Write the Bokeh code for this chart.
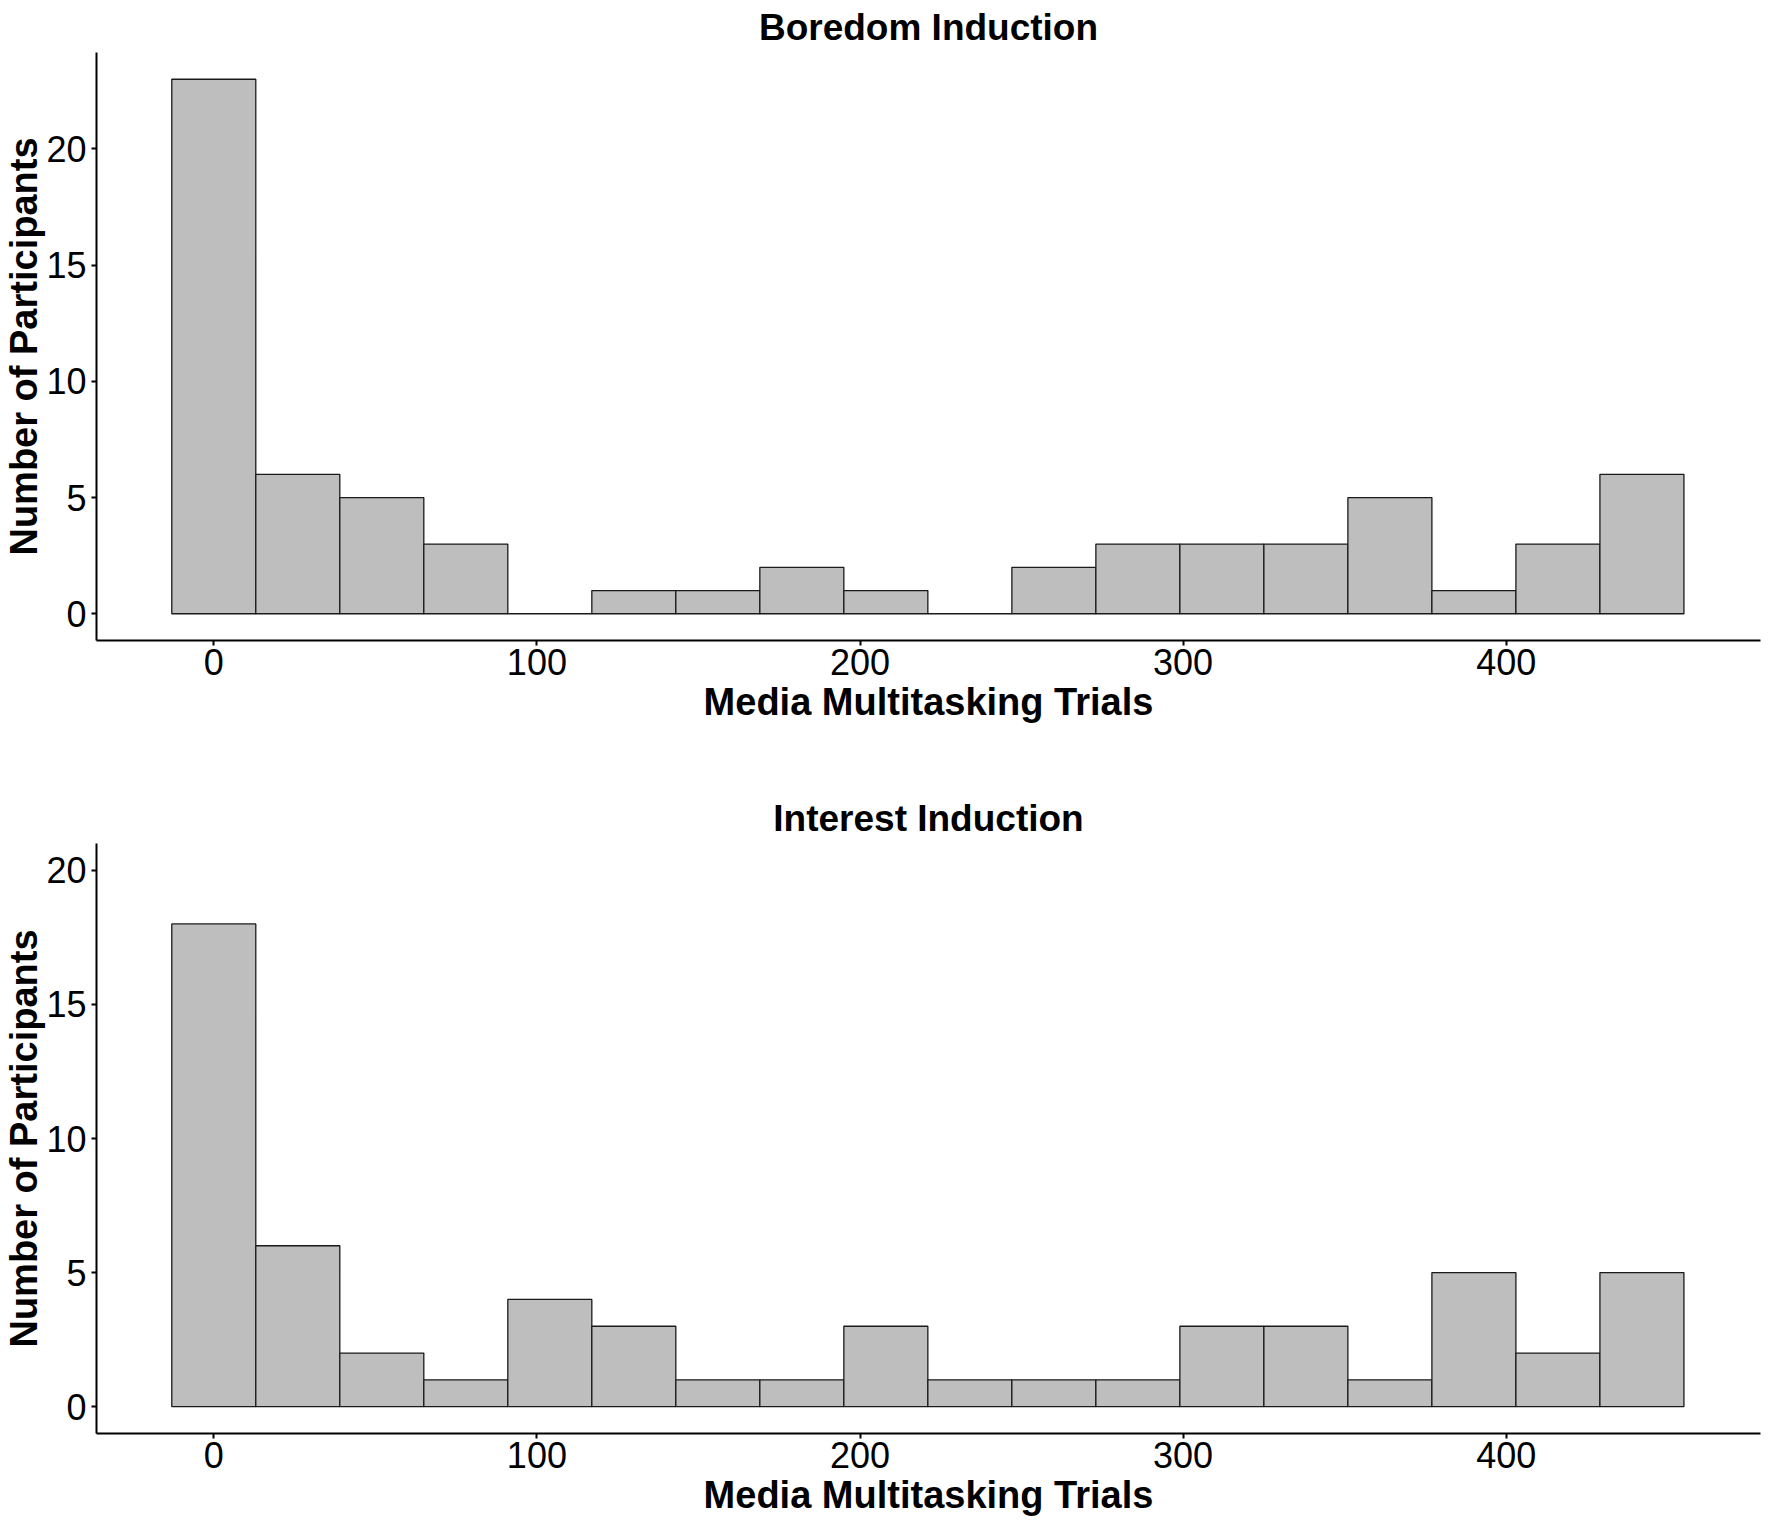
from bokeh.plotting import figure
from bokeh.models import Range1d, FixedTicker
from bokeh.layouts import column
from bokeh.embed import file_html
from bokeh.resources import INLINE

# ---- data ----
bin_centers = [0, 26, 52, 78, 104, 130, 156, 182, 208, 234, 260, 286, 312, 338, 364, 390, 416, 442]
bin_width = 26
boredom_counts = [23, 6, 5, 3, 0, 1, 1, 2, 1, 0, 2, 3, 3, 3, 5, 1, 3, 6]
interest_counts = [18, 6, 2, 1, 4, 3, 1, 1, 3, 1, 1, 1, 3, 3, 1, 5, 2, 5]
x_ticks = [0, 100, 200, 300, 400]
y_ticks = [0, 5, 10, 15, 20]
titles = ["Boredom Induction", "Interest Induction"]
x_label = "Media Multitasking Trials"
y_label = "Number of Participants"

FONT = "Liberation Sans"


def make_panel(title, counts, y_lo, y_hi, height, top_border, bottom_border):
    p = figure(width=1764, height=height,
               x_range=Range1d(-36.3, 478.7), y_range=Range1d(y_lo, y_hi),
               output_backend="svg", toolbar_location=None,
               min_border_left=89, min_border_right=4,
               min_border_top=top_border,
               min_border_bottom=bottom_border)
    p.title.text = title
    p.title.align = "center"
    p.title.text_font = FONT
    p.title.text_font_size = "37px"
    p.title.text_font_style = "bold"
    p.title.text_color = "black"
    p.title.standoff = 9

    p.vbar(x=bin_centers, width=bin_width, top=counts, bottom=0,
           fill_color="#BEBEBE", line_color="#1a1a1a", line_width=1.3)

    p.xgrid.visible = False
    p.ygrid.visible = False
    p.outline_line_color = None
    p.background_fill_color = "white"
    p.border_fill_color = "white"

    p.xaxis.ticker = FixedTicker(ticks=x_ticks)
    p.yaxis.ticker = FixedTicker(ticks=y_ticks)
    p.xaxis.axis_label = x_label
    p.yaxis.axis_label = y_label
    for ax in (p.xaxis, p.yaxis):
        ax.axis_line_color = "black"
        ax.axis_line_width = 2
        ax.major_tick_line_color = "black"
        ax.major_tick_line_width = 2
        ax.major_tick_out = 5
        ax.major_tick_in = 0
        ax.minor_tick_line_color = None
        ax.major_label_text_font = FONT
        ax.major_label_text_font_size = "36px"
        ax.major_label_text_color = "black"
        ax.axis_label_text_font = FONT
        ax.axis_label_text_font_size = "38px"
        ax.axis_label_text_font_style = "bold"
        ax.axis_label_text_color = "black"
    p.xaxis.major_label_standoff = 3
    p.xaxis.axis_label_standoff = 3
    p.yaxis.major_label_standoff = 5
    p.yaxis.axis_label_standoff = -2
    return p


p1 = make_panel(titles[0], boredom_counts, -1.15, 24.15, 730, 44, 90)
p2 = make_panel(titles[1], interest_counts, -1.0, 21.0, 793, 113, 90)

layout = column(p1, p2, spacing=0)
open("out.html", "w").write(file_html(layout, INLINE))
